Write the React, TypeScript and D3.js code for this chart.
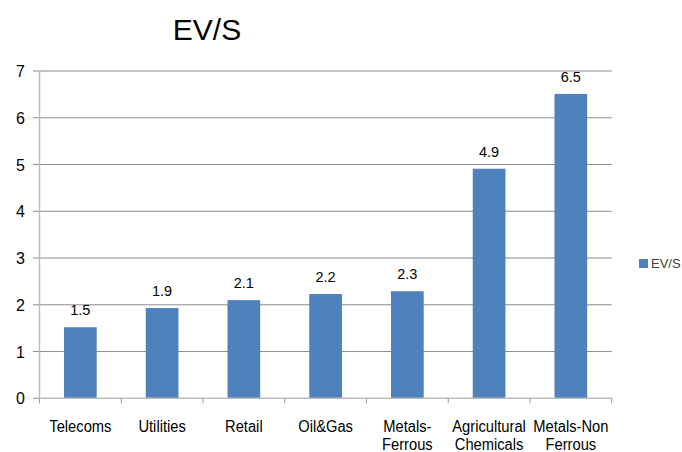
import React from "react";
import * as d3 from "d3";

const categories: string[][] = [
  ["Telecoms"],
  ["Utilities"],
  ["Retail"],
  ["Oil&Gas"],
  ["Metals-", "Ferrous"],
  ["Agricultural", "Chemicals"],
  ["Metals-Non", "Ferrous"],
];
const values: number[] = [1.52, 1.93, 2.1, 2.23, 2.29, 4.91, 6.51];
const valueLabels: string[] = ["1.5", "1.9", "2.1", "2.2", "2.3", "4.9", "6.5"];
const yTicks: number[] = [0, 1, 2, 3, 4, 5, 6, 7];
const seriesName = "EV/S";
const title = "EV/S";

const W = 682;
const H = 452;
const left = 39.5;
const right = 611.7;
const top = 71;
const bottom = 398.3;
const barColor = "#4F81BD";
const font = "'Liberation Sans', Arial, sans-serif";

export default function App() {
  const x = d3
    .scaleBand<number>()
    .domain(d3.range(categories.length))
    .range([left, right])
    .paddingInner(0.6)
    .paddingOuter(0.3);
  const band = d3.scaleBand<number>().domain(d3.range(categories.length)).range([left, right]);
  const y = d3.scaleLinear().domain([0, 7]).range([bottom, top]);

  return (
    <svg
      width={W}
      height={H}
      style={{ position: "absolute", left: 0, top: 0, background: "#fff" }}
      fontFamily={font}
    >
      <text x={207} y={40} fontSize={30} textAnchor="middle" fill="#000">
        {title}
      </text>
      {yTicks.map((t) => (
        <g key={t}>
          {t > 0 && (
            <line x1={left} x2={right} y1={y(t)} y2={y(t)} stroke="#8c8c8c" strokeWidth={1} />
          )}
          <line x1={33} x2={left} y1={y(t)} y2={y(t)} stroke="#8c8c8c" strokeWidth={1} />
          <text x={25} y={y(t) + 6} fontSize={16} textAnchor="end" fill="#000">
            {t}
          </text>
        </g>
      ))}
      {values.map((v, i) => (
        <g key={i}>
          <rect x={x(i)} y={y(v)} width={x.bandwidth()} height={bottom - y(v)} fill={barColor} />
          <text
            x={(x(i) as number) + x.bandwidth() / 2}
            y={y(v) - 12}
            fontSize={14.5}
            textAnchor="middle"
            fill="#000"
          >
            {valueLabels[i]}
          </text>
        </g>
      ))}
      <line x1={left} x2={left} y1={top} y2={bottom} stroke="#bdbdbd" strokeWidth={1.5} />
      <line x1={left} x2={right} y1={bottom} y2={bottom} stroke="#bdbdbd" strokeWidth={1.5} />
      {d3.range(categories.length + 1).map((i) => {
        const xx = i < categories.length ? (band(i) as number) : right;
        return <line key={i} x1={xx} x2={xx} y1={bottom} y2={bottom + 5} stroke="#9a9a9a" strokeWidth={1} />;
      })}
      {categories.map((lines, i) => {
        const cx = (band(i) as number) + band.bandwidth() / 2;
        return (
          <g key={i} transform={`translate(${cx},431.5) scale(0.92,1)`}>
            <text x={0} y={0} fontSize={16} textAnchor="middle" fill="#000">
              {lines.map((l, j) => (
                <tspan key={j} x={0} dy={j === 0 ? 0 : 19}>
                  {l}
                </tspan>
              ))}
            </text>
          </g>
        );
      })}
      <rect x={639} y={259} width={9} height={9} fill={barColor} />
      <text x={651} y={268} fontSize={13} fill="#404040">
        {seriesName}
      </text>
    </svg>
  );
}
